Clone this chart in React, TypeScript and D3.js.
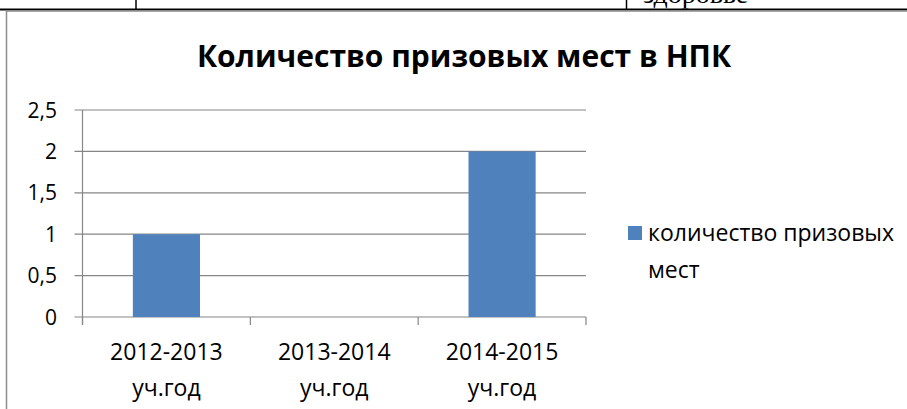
import React from "react";
import * as d3 from "d3";

const categoriesLine1 = ["2012-2013", "2013-2014", "2014-2015"];
const categoriesLine2 = ["уч.год", "уч.год", "уч.год"];
const values = [1, 0, 2];
const yTicks = [0, 0.5, 1, 1.5, 2, 2.5];
const seriesName = ["количество призовых", "мест"];
const title = "Количество призовых мест в НПК";

const W = 907;
const H = 409;
const plot = { left: 82.5, right: 586, top: 110, bottom: 317 };
const FONT = "'Open Sans', 'Noto Sans', sans-serif";
const GRID = "#868686";
const BAR = "#4F81BD";

export default function App() {
  const x = d3
    .scaleBand<number>()
    .domain(values.map((_, i) => i))
    .range([plot.left, plot.right])
    .paddingInner(0.6)
    .paddingOuter(0.3);
  const step = (plot.right - plot.left) / values.length;
  const y = d3.scaleLinear().domain([0, 2.5]).range([plot.bottom, plot.top]);
  const fmt = (v: number) => String(v).replace(".", ",");

  return (
    <svg
      width={W}
      height={H}
      style={{ position: "absolute", left: 0, top: 0, background: "#fff" }}
    >
      {/* document table fragment above the chart */}
      <defs>
        <clipPath id="topclip">
          <rect x={0} y={0} width={W} height={8.5} />
        </clipPath>
      </defs>
      <text
        x={643}
        y={3}
        clipPath="url(#topclip)"
        fontFamily="'Liberation Serif', serif"
        fontSize={28}
        fill="#000"
      >
        здоровье
      </text>
      <line x1={136} x2={136} y1={0} y2={9} stroke="#000" strokeWidth={1.5} />
      <line x1={626.5} x2={626.5} y1={0} y2={9} stroke="#000" strokeWidth={1.5} />
      <line x1={0} x2={W} y1={9.5} y2={9.5} stroke="#000" strokeWidth={2} />

      {/* chart frame */}
      <rect
        x={6.5}
        y={11}
        width={W + 20}
        height={H + 20}
        fill="#fff"
        stroke="#8c8c8c"
        strokeWidth={1.5}
      />

      {/* title */}
      <text
        x={464}
        y={67}
        textAnchor="middle"
        fontFamily={FONT}
        fontWeight="bold"
        fontSize={30}
        fill="#000"
      >
        {title}
      </text>

      {/* gridlines and y ticks */}
      {yTicks.map((t) => (
        <g key={t}>
          <line
            x1={plot.left - 8}
            x2={plot.right}
            y1={y(t)}
            y2={y(t)}
            stroke={GRID}
            strokeWidth={1.2}
          />
          <text
            x={57}
            y={y(t)}
            dy="0.36em"
            textAnchor="end"
            fontFamily={FONT}
            fontSize={21}
            fill="#000"
          >
            {fmt(t)}
          </text>
        </g>
      ))}

      {/* y axis */}
      <line
        x1={plot.left}
        x2={plot.left}
        y1={plot.top}
        y2={plot.bottom + 8}
        stroke={GRID}
        strokeWidth={1.2}
      />

      {/* bars */}
      {values.map((v, i) =>
        v > 0 ? (
          <rect
            key={i}
            x={x(i)}
            y={y(v)}
            width={x.bandwidth()}
            height={y(0) - y(v)}
            fill={BAR}
          />
        ) : null
      )}

      {/* x axis ticks */}
      {d3.range(values.length + 1).map((k) => (
        <line
          key={k}
          x1={plot.left + k * step}
          x2={plot.left + k * step}
          y1={plot.bottom}
          y2={plot.bottom + 8}
          stroke={GRID}
          strokeWidth={1.2}
        />
      ))}

      {/* x labels */}
      {categoriesLine1.map((c, i) => (
        <text
          key={i}
          textAnchor="middle"
          fontFamily={FONT}
          fontSize={23}
          fill="#000"
        >
          <tspan x={plot.left + (i + 0.5) * step} y={360}>
            {c}
          </tspan>
          <tspan x={plot.left + (i + 0.5) * step} y={396}>
            {categoriesLine2[i]}
          </tspan>
        </text>
      ))}

      {/* legend */}
      <rect x={628} y={226} width={14} height={14} fill={BAR} />
      <text fontFamily={FONT} fontSize={23} fill="#000">
        <tspan x={648} y={241}>
          {seriesName[0]}
        </tspan>
        <tspan x={648} y={278}>
          {seriesName[1]}
        </tspan>
      </text>
    </svg>
  );
}
